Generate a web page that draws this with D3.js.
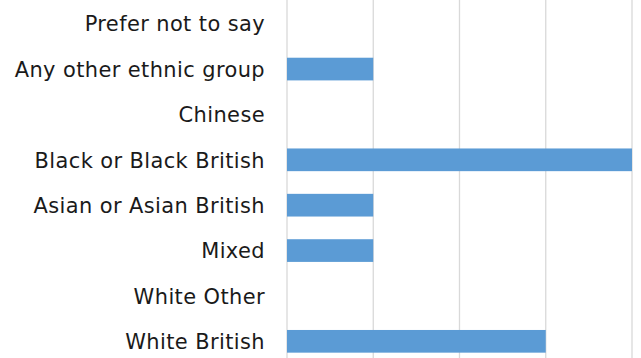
<!DOCTYPE html>
<html><head><meta charset="utf-8">
<script src="https://cdn.jsdelivr.net/npm/d3@7"></script>
<style>html,body{margin:0;padding:0;background:#fff;overflow:hidden}</style>
</head><body>
<svg id="c" width="641" height="358"></svg>
<script>
const categories = ["Prefer not to say","Any other ethnic group","Chinese","Black or Black British","Asian or Asian British","Mixed","White Other","White British"];
const values = [0,1,0,4,1,1,0,3];
const xTicks = [0,1,2,3,4];

const svg = d3.select("#c");
const x = d3.scaleLinear().domain([0,4]).range([287,632]);
const y = d3.scaleBand().domain(categories).range([1,364]).paddingInner(0.5).paddingOuter(0.25);

svg.append("g").selectAll("line").data(xTicks).join("line")
  .attr("x1",d=>x(d)).attr("x2",d=>x(d)).attr("y1",0).attr("y2",358)
  .attr("stroke","#d9d9d9").attr("stroke-width",1.3);

svg.append("g").selectAll("rect").data(values).join("rect")
  .attr("x",x(0)).attr("y",(d,i)=>y(categories[i]))
  .attr("width",d=>x(d)-x(0)).attr("height",y.bandwidth())
  .attr("fill","#5b9bd5");

const g = svg.append("g").attr("font-family","DejaVu Sans").attr("fill","#1a1a1a");
const labels = g.selectAll("text").data(categories).join("text")
  .attr("x",265).attr("y",d=>y(d)+y.bandwidth()/2).attr("dy","0.37em")
  .attr("text-anchor","end").attr("font-size",18).attr("letter-spacing",0.4).text(d=>d);
// fit font size so widest label matches reference width
let w = 0; labels.each(function(){w=Math.max(w,this.getComputedTextLength());});
const fs = 18*252/w;
labels.attr("font-size",fs);
</script>
</body></html>
